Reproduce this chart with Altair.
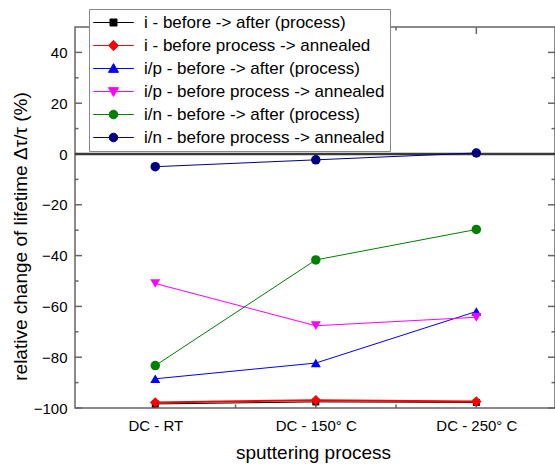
import altair as alt
import pandas as pd

# x categories (sputtering process) and their positions on the axis
processes = ["DC - RT", "DC - 150° C", "DC - 250° C"]
process_pos = [1, 2, 3]

series_names = [
    "i - before -> after (process)",
    "i - before process -> annealed",
    "i/p - before -> after (process)",
    "i/p - before process -> annealed",
    "i/n - before -> after (process)",
    "i/n - before process -> annealed",
]

# relative lifetime change in %
i_before_after = [-98.4, -97.6, -97.8]
i_annealed = [-97.8, -96.9, -97.4]
ip_before_after = [-88.5, -82.3, -62.0]
ip_annealed = [-51.0, -67.6, -64.3]
in_before_after = [-83.3, -41.7, -29.7]
in_annealed = [-5.0, -2.3, 0.4]

series_values = [i_before_after, i_annealed, ip_before_after,
                 ip_annealed, in_before_after, in_annealed]

series_colors = ["#000000", "#ff0000", "#0000ff", "#ff00ff", "#008000", "#000080"]
marker_shapes = ["square", "diamond", "triangle-up", "triangle-down", "circle", "circle"]
marker_sizes = [49, 110, 100, 100, 90, 90]
line_widths = [1, 2, 1, 1.1, 1, 1]

# legend glyphs: a short line with the marker in its middle (units of 7 px)
legend_line = "M-2.9,0H2.9"
legend_glyphs = [
    legend_line + "M-0.5,-0.5H0.5V0.5H-0.5Z",
    legend_line + "M0,-0.75L0.7,0L0,0.75L-0.7,0Z",
    legend_line + "M0,-0.7L0.72,0.55H-0.72Z",
    legend_line + "M0,0.7L0.72,-0.55H-0.72Z",
    legend_line + "M-0.62,0A0.62,0.62,0,1,0,0.62,0A0.62,0.62,0,1,0,-0.62,0Z",
    legend_line + "M-0.62,0A0.62,0.62,0,1,0,0.62,0A0.62,0.62,0,1,0,-0.62,0Z",
]

y_major = [-100, -80, -60, -40, -20, 0, 20, 40]
y_minor = [-90, -70, -50, -30, -10, 10, 30]
x_major = [1, 2, 3]
x_minor = [1.5, 2.5]

rows = []
for k, (name, vals) in enumerate(zip(series_names, series_values)):
    for pos, proc, v in zip(process_pos, processes, vals):
        rows.append({"series": name, "pos": pos, "process": proc, "value": v,
                     "lw": line_widths[k], "ms": marker_sizes[k]})
df = pd.DataFrame(rows)

W, H = 480, 381
FONT = "Liberation Sans"
FRAME = "#666666"

label_expr = "[" + ",".join("'" + p + "'" for p in processes) + "][datum.value - 1]"

x_enc = alt.X(
    "pos:Q",
    scale=alt.Scale(domain=[0.5, 3.49], nice=False, zero=False),
    axis=alt.Axis(values=x_major, labelExpr=label_expr, title="sputtering process",
                  ticks=False, domain=False, grid=False, labelPadding=10,
                  titleX=238, titleY=50, titleBaseline="alphabetic"),
)
y_enc = alt.Y(
    "value:Q",
    scale=alt.Scale(domain=[-100, 50], nice=False, zero=False),
    axis=alt.Axis(values=y_major, title="relative change of lifetime Δτ/τ (%)",
                  ticks=False, domain=False, grid=False, labelPadding=8,
                  titleX=-55, titleY=209, titleBaseline="middle"),
)

color_scale = alt.Scale(domain=series_names, range=series_colors)

lines = alt.Chart(df).mark_line().encode(
    x=x_enc, y=y_enc,
    color=alt.Color("series:N", scale=color_scale, legend=None),
    strokeWidth=alt.StrokeWidth("lw:Q", scale=None),
    order="pos:Q",
)

points = alt.Chart(df).mark_point(filled=True, opacity=1).encode(
    x=x_enc, y=y_enc,
    color=alt.Color("series:N", scale=color_scale, legend=None),
    shape=alt.Shape("series:N", scale=alt.Scale(domain=series_names, range=marker_shapes), legend=None),
    size=alt.Size("ms:Q", scale=None),
)

legend_props = dict(
    orient="none", legendX=14, legendY=-18, title=None,
    symbolSize=196, symbolStrokeWidth=1, symbolOffset=11, labelOffset=22,
    symbolOpacity=1,
    labelFont=FONT, labelFontSize=17, labelColor="#000000",
    rowPadding=5, padding=5, fillColor="white", strokeColor="#888888",
    labelLimit=400,
    labelExpr="datum.label + '\u00a0'",
)

legend_layer = alt.Chart(df).transform_filter("false").mark_point(
    filled=True, opacity=1, fillOpacity=1
).encode(
    x=x_enc, y=y_enc,
    fill=alt.Fill("series:N", scale=alt.Scale(domain=series_names, range=series_colors),
                  legend=alt.Legend(**legend_props)),
    stroke=alt.Stroke("series:N", scale=alt.Scale(domain=series_names, range=series_colors),
                      legend=alt.Legend(**legend_props)),
    shape=alt.Shape("series:N", scale=alt.Scale(domain=series_names, range=legend_glyphs),
                    legend=alt.Legend(**legend_props)),
)

zero_line = alt.Chart(pd.DataFrame({"value": [0]})).mark_rule(color="#3a3a3a", strokeWidth=2.5).encode(
    y=y_enc, x=alt.value(0), x2=alt.value(W))

def y_ticks(vals, x0, x1):
    return alt.Chart(pd.DataFrame({"value": vals})).mark_rule(color=FRAME, strokeWidth=1.5).encode(
        y=y_enc, x=alt.value(x0), x2=alt.value(x1))

def x_ticks(vals, y0, y1):
    return alt.Chart(pd.DataFrame({"pos": vals})).mark_rule(color=FRAME, strokeWidth=1.5).encode(
        x=x_enc, y=alt.value(y0), y2=alt.value(y1))

ticks = [
    y_ticks(y_major, 0, 7), y_ticks(y_minor, 0, 3.5),
    y_ticks(y_major, W - 7, W), y_ticks(y_minor, W - 3.5, W),
    x_ticks(x_major, H, H - 7), x_ticks(x_minor, H, H - 3.5),
    x_ticks(x_major, 0, 7), x_ticks(x_minor, 0, 3.5),
]

chart = alt.layer(*ticks, zero_line, lines, points, legend_layer).resolve_scale(
    shape="independent", fill="independent", stroke="independent"
).properties(
    width=W, height=H,
    autosize=alt.AutoSizeParams(type="none"),
    padding={"left": 75, "top": 27, "right": 0, "bottom": 57},
).configure_view(
    stroke=FRAME, strokeWidth=1.5
).configure_axis(
    labelFont=FONT, labelFontSize=15, labelColor="#000000",
    titleFont=FONT, titleFontSize=19, titleFontWeight="normal", titleColor="#000000",
)

chart.save("out.html", embed_options={"renderer": "svg", "actions": False})
